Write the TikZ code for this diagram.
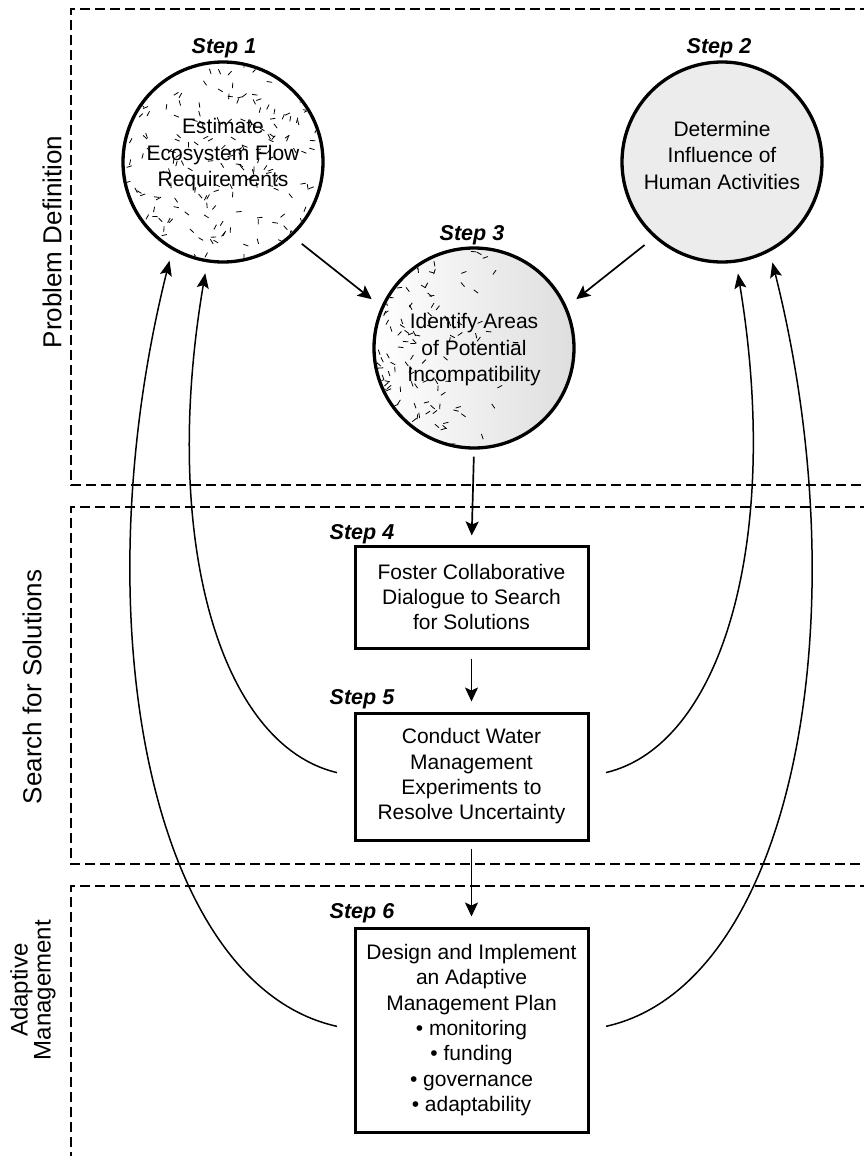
\documentclass[tikz,border=0pt]{standalone}
\usepackage{fontspec}
\setmainfont{Liberation Sans}
\usetikzlibrary{arrows.meta}
\begin{document}
\begin{tikzpicture}[x=1pt,y=1pt,
  arr/.style={-{Stealth[length=14pt,width=13pt,inset=3pt]}, line width=1.7pt},
  curv/.style={-{Stealth[length=15pt,width=12pt,inset=3pt]}, line width=1.5pt, shorten <=17pt, shorten >=11pt},
  circ/.style={circle, draw, line width=3.3pt, minimum size=200pt, inner sep=0pt},
  ctext/.style={align=center, font=\fontsize{21}{26.5}\selectfont},
  box/.style={draw, line width=3pt, minimum width=233pt, align=center, inner sep=0pt, font=\fontsize{21}{25.3}\selectfont},
  steplbl/.style={font=\fontsize{21.5}{25}\selectfont\bfseries\itshape, anchor=base},
  region/.style={dash pattern=on 10pt off 5pt, line width=1.3pt},
  side/.style={font=\fontsize{26}{27}\selectfont, rotate=90, align=center},
  tex/.style={line width=0.8pt}
]
\useasboundingbox (0,0) rectangle (864,-1156);

% regions
\draw[region] (870,-9) -- (71,-9) -- (71,-485) -- (870,-485);
\draw[region] (870,-507) -- (71,-507) -- (71,-864) -- (870,-864);
\draw[region] (870,-886) -- (71,-886) -- (71,-1160);

\node[side] (lp) at (52,-242) {Problem Definition};
\node[side] (ls) at (32,-687) {Search for Solutions};
\node[side, font=\fontsize{24}{23}\selectfont] (la) at (33,-990) {Adaptive\\Management};

% circle backgrounds and textures
\fill[white] (223,-162) circle[radius=100];
\fill[gray!15] (722,-162) circle[radius=100];
\shade[left color=white, right color=gray!26] (474,-348) circle[radius=100];

\pgfmathsetseed{7}
\begin{scope}
\clip (223,-162) circle[radius=98];
\foreach \i in {1,...,230}{
  \pgfmathsetmacro{\px}{223+rand*100}
  \pgfmathsetmacro{\py}{-162+rand*100}
  \pgfmathsetmacro{\pa}{rnd*180}
  \draw[tex] (\px,\py) ++(\pa:2.7) -- ++(\pa+180:5.4);
}
\end{scope}
\begin{scope}
\clip (474,-348) circle[radius=98];
\foreach \i in {1,...,150}{
  \pgfmathsetmacro{\px}{374+150*rnd*rnd}
  \pgfmathsetmacro{\py}{-348+rand*100}
  \pgfmathsetmacro{\pa}{rnd*180}
  \draw[tex] (\px,\py) ++(\pa:2.7) -- ++(\pa+180:5.4);
}
\end{scope}

% circle nodes
\node[circ] (c1) at (223,-162) {};
\node[circ] (c2) at (722,-162) {};
\node[circ] (c3) at (474,-348) {};
\node[ctext] (t1) at (223,-155) {Estimate\\Ecosystem Flow\\Requirements};
\node[ctext] (t2) at (722,-155) {Determine\\Influence of\\Human Activities};
\node[ctext] (t3) at (474,-350) {Identify Areas\\of Potential\\Incompatibility};

\node[steplbl] (s1) at (224,-53) {Step 1};
\node[steplbl] (s2) at (719,-53) {Step 2};
\node[steplbl] (s3) at (472,-240) {Step 3};

% boxes
\node[box, minimum height=102pt] (b4) at (471.5,-597) {Foster Collaborative\\Dialogue to Search\\for Solutions};
\node[box, minimum height=127pt] (b5) at (471.5,-776.5) {Conduct Water\\Management\\Experiments to\\Resolve Uncertainty};
\node[box, minimum height=204pt] (b6) at (471.5,-1030) {Design and Implement\\an Adaptive\\Management Plan\\• monitoring\\• funding\\• governance\\• adaptability};

\node[steplbl] (s4) at (362,-539) {Step 4};
\node[steplbl] (s5) at (362,-704) {Step 5};
\node[steplbl] (s6) at (362,-918) {Step 6};

% straight arrows
\draw[arr, shorten <=12pt, shorten >=12pt] (c1.-47) -- (c3.156);
\draw[arr, shorten <=12pt, shorten >=12pt] (c2.228) -- (c3.24);
\draw[arr, shorten <=7pt, shorten >=9pt] (c3.south) -- (b4.north);
\draw[arr, shorten <=9pt, shorten >=10pt] (b4.south) -- (b5.north);
\draw[arr, shorten <=7pt, shorten >=10pt] (b5.south) -- (b6.north);

% feedback curves
\draw[curv] (b6.west) .. controls (150,-985) and (80,-620) .. (c1.-120);
\draw[curv] (b5.west) .. controls (220,-745) and (160,-540) .. (c1.-99);
\draw[curv] (b5.east) .. controls (722,-745) and (782,-540) .. (c2.-82);
\draw[curv] (b6.east) .. controls (792,-985) and (862,-620) .. (c2.-62);
\end{tikzpicture}
\end{document}
